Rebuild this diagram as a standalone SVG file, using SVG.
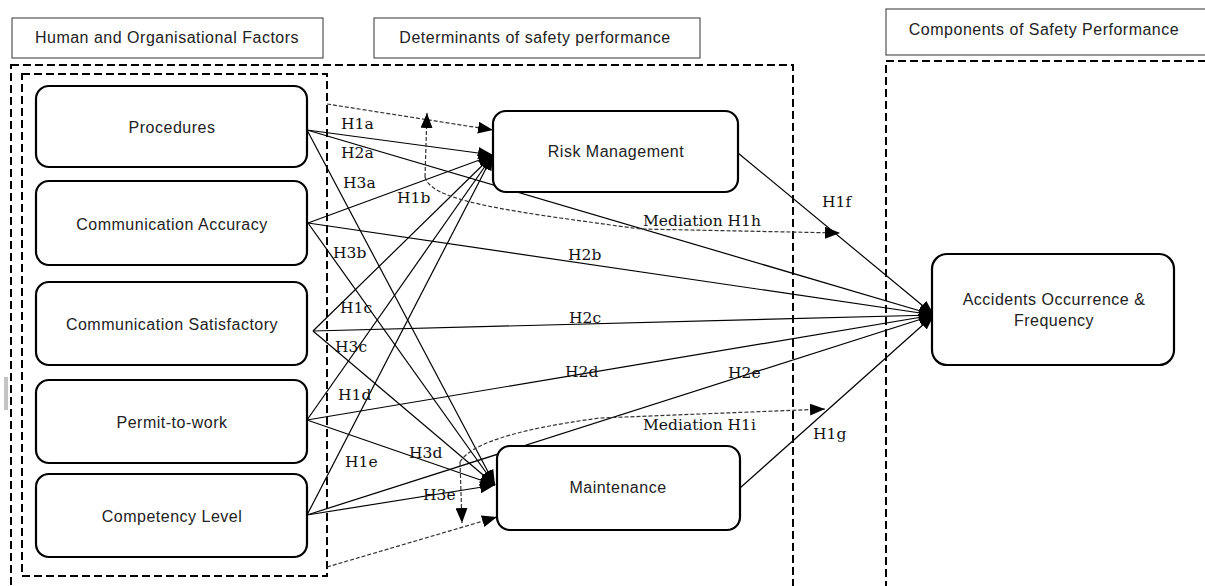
<svg xmlns="http://www.w3.org/2000/svg" width="1205" height="586" viewBox="0 0 1205 586">
<style>
.hdr{fill:#fff;stroke:#333;stroke-width:1}
.grp{fill:none;stroke:#000;stroke-width:2;stroke-dasharray:8,4}
.node{fill:#fff;stroke:#000;stroke-width:2.2}
.t{font-family:"Liberation Sans",Arial,sans-serif;font-size:16px;letter-spacing:0.5px;fill:#222;text-anchor:middle}
.lbl{font-family:"DejaVu Serif","Liberation Serif",serif;font-size:15.5px;fill:#111}
.c{fill:none;stroke:#000;stroke-width:1.2}
.d{fill:none;stroke:#333;stroke-width:1.2;stroke-dasharray:4,2}
</style>
<defs>
<marker id="ah" markerUnits="userSpaceOnUse" markerWidth="15" markerHeight="12" refX="15" refY="6" orient="auto">
<path d="M0,0 L15,6 L0,12 z" fill="#000"/>
</marker>
</defs>
<rect width="1205" height="586" fill="#fff"/>
<g id="headers">
<rect class="hdr" x="12" y="18" width="311" height="40"/>
<text class="t" x="167" y="43">Human and Organisational Factors</text>
<rect class="hdr" x="374" y="18" width="326" height="40"/>
<text class="t" x="535" y="43">Determinants of safety performance</text>
<rect class="hdr" x="886" y="9" width="325" height="46"/>
<text class="t" x="1044" y="35">Components of Safety Performance</text>
</g>
<g id="groups">
<rect class="grp" x="11" y="65" width="782" height="540"/>
<rect class="grp" x="22" y="74" width="305" height="502"/>
<rect class="grp" x="886" y="61" width="330" height="540"/>
<line x1="5" y1="377" x2="5" y2="410" stroke="#888" stroke-width="1"/>
<line x1="7" y1="377" x2="7" y2="410" stroke="#888" stroke-width="1"/>
</g>
<g id="connectors">
<line class="c" x1="307" y1="130" x2="493" y2="155" marker-end="url(#ah)"/>
<line class="c" x1="307" y1="130" x2="934" y2="315" marker-end="url(#ah)"/>
<line class="c" x1="307" y1="130" x2="495" y2="485" marker-end="url(#ah)"/>
<line class="c" x1="308" y1="223" x2="493" y2="155" marker-end="url(#ah)"/>
<line class="c" x1="308" y1="223" x2="934" y2="315" marker-end="url(#ah)"/>
<line class="c" x1="308" y1="223" x2="495" y2="485" marker-end="url(#ah)"/>
<line class="c" x1="313" y1="331" x2="493" y2="155" marker-end="url(#ah)"/>
<line class="c" x1="313" y1="331" x2="934" y2="315" marker-end="url(#ah)"/>
<line class="c" x1="313" y1="331" x2="495" y2="485" marker-end="url(#ah)"/>
<line class="c" x1="307" y1="420" x2="493" y2="155" marker-end="url(#ah)"/>
<line class="c" x1="307" y1="420" x2="934" y2="315" marker-end="url(#ah)"/>
<line class="c" x1="307" y1="420" x2="495" y2="485" marker-end="url(#ah)"/>
<line class="c" x1="307" y1="515" x2="493" y2="155" marker-end="url(#ah)"/>
<line class="c" x1="307" y1="515" x2="934" y2="315" marker-end="url(#ah)"/>
<line class="c" x1="307" y1="515" x2="495" y2="485" marker-end="url(#ah)"/>
<line class="c" x1="738" y1="153" x2="934" y2="315" marker-end="url(#ah)"/>
<line class="c" x1="740" y1="488" x2="934" y2="315" marker-end="url(#ah)"/>
<line class="d" x1="327" y1="104" x2="493" y2="130" marker-end="url(#ah)"/>
<path class="d" d="M425,177 L427,113" marker-end="url(#ah)"/>
<path class="d" d="M425,177 C430,195 470,205 560,218 L640,229 L840,233" marker-end="url(#ah)"/>
<line class="d" x1="327" y1="567" x2="497" y2="517" marker-end="url(#ah)"/>
<path class="d" d="M460,462 L462,523" marker-end="url(#ah)"/>
<path class="d" d="M460,462 C470,445 510,430 600,418 L825,409" marker-end="url(#ah)"/>
</g>
<g id="labels">
<text class="lbl" x="341" y="129">H1a</text>
<text class="lbl" x="341" y="158">H2a</text>
<text class="lbl" x="343" y="188">H3a</text>
<text class="lbl" x="397" y="203">H1b</text>
<text class="lbl" x="333" y="258">H3b</text>
<text class="lbl" x="568" y="260">H2b</text>
<text class="lbl" x="643" y="226">Mediation H1h</text>
<text class="lbl" x="822" y="207">H1f</text>
<text class="lbl" x="340" y="313">H1c</text>
<text class="lbl" x="569" y="323">H2c</text>
<text class="lbl" x="335" y="352">H3c</text>
<text class="lbl" x="565" y="377">H2d</text>
<text class="lbl" x="338" y="400">H1d</text>
<text class="lbl" x="728" y="378">H2e</text>
<text class="lbl" x="643" y="430">Mediation H1i</text>
<text class="lbl" x="813" y="439">H1g</text>
<text class="lbl" x="409" y="458">H3d</text>
<text class="lbl" x="345" y="467">H1e</text>
<text class="lbl" x="423" y="500">H3e</text>
</g>
<g id="n-procedures">
<rect class="node" x="36" y="86" width="271" height="81" rx="13"/>
<text class="t" x="172" y="133">Procedures</text>
</g>
<g id="n-comm-accuracy">
<rect class="node" x="36" y="181" width="271" height="84" rx="13"/>
<text class="t" x="172" y="230">Communication Accuracy</text>
</g>
<g id="n-comm-satisfactory">
<rect class="node" x="36" y="282" width="271" height="83" rx="13"/>
<text class="t" x="172" y="330">Communication Satisfactory</text>
</g>
<g id="n-permit">
<rect class="node" x="36" y="380" width="271" height="83" rx="13"/>
<text class="t" x="172" y="428">Permit-to-work</text>
</g>
<g id="n-competency">
<rect class="node" x="36" y="474" width="271" height="83" rx="13"/>
<text class="t" x="172" y="522">Competency Level</text>
</g>
<g id="n-risk">
<rect class="node" x="493" y="111" width="245" height="81" rx="13"/>
<text class="t" x="616" y="157">Risk Management</text>
</g>
<g id="n-maintenance">
<rect class="node" x="497" y="446" width="243" height="84" rx="13"/>
<text class="t" x="618" y="493">Maintenance</text>
</g>
<g id="n-accidents">
<rect class="node" x="932" y="254" width="242" height="111" rx="15"/>
<text class="t" x="1054" y="305">Accidents Occurrence &amp;</text>
<text class="t" x="1054" y="326">Frequency</text>
</g>
</svg>
